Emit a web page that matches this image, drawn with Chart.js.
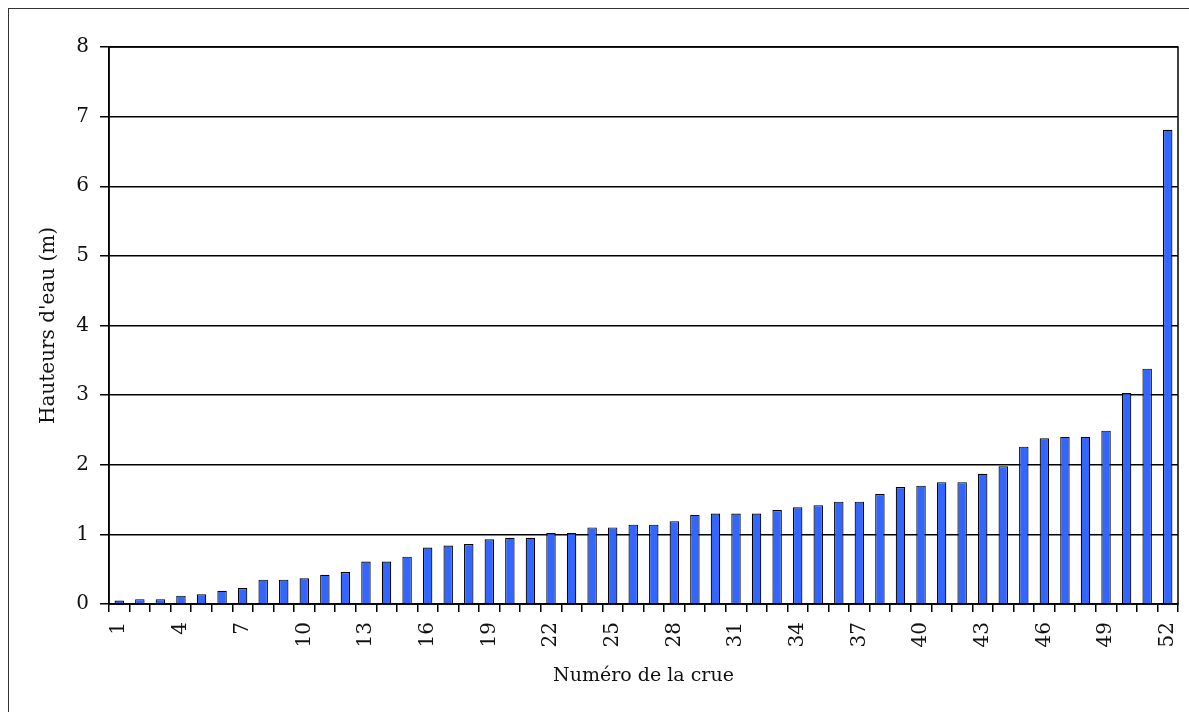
<!DOCTYPE html>
<html>
<head>
<meta charset="utf-8">
<script src="https://cdn.jsdelivr.net/npm/chart.js@4"></script>
<style>
  body { margin: 0; background: #fff; overflow: hidden; }
  #frame { position: absolute; left: 8px; top: 8px; width: 1200px; height: 720px; border: 1px solid #333; }
  #crues { position: absolute; left: 0; top: 0; }
</style>
</head>
<body>
<div id="frame"></div>
<canvas id="crues" width="1189" height="712"></canvas>
<script>
// hauteurs d'eau (m) for each flood, sorted
const numeros = [];
for (let i = 1; i <= 52; i++) numeros.push(String(i));

const hauteurs = [
  0.05, 0.07, 0.07, 0.12, 0.14, 0.19, 0.23, 0.35, 0.35, 0.37,
  0.42, 0.46, 0.61, 0.61, 0.68, 0.81, 0.84, 0.86, 0.93, 0.95,
  0.95, 1.02, 1.02, 1.10, 1.10, 1.14, 1.14, 1.19, 1.28, 1.30,
  1.30, 1.30, 1.35, 1.39, 1.42, 1.47, 1.47, 1.58, 1.68, 1.70,
  1.75, 1.75, 1.87, 1.98, 2.26, 2.38, 2.40, 2.40, 2.49, 3.03,
  3.38, 6.81,
];

const yTicks = [0, 1, 2, 3, 4, 5, 6, 7, 8];

const police = "'DejaVu Serif', 'Liberation Serif', serif";

const framePlugin = {
  id: "framePlugin",
  afterDatasetsDraw(chart) {
    const { ctx, chartArea } = chart;
    ctx.save();
    ctx.strokeStyle = "#000";
    ctx.lineWidth = 1.5;
    ctx.strokeRect(chartArea.left, chartArea.top, chartArea.right - chartArea.left, chartArea.bottom - chartArea.top);
    ctx.restore();
  },
};

const crues = document.getElementById("crues").getContext("2d");

new Chart(crues, {
  type: "bar",
  data: {
    labels: numeros,
    datasets: [
      {
        data: hauteurs,
        backgroundColor: "#3366ff",
        borderColor: "#000",
        borderWidth: 1.2,
        barPercentage: 0.46,
        categoryPercentage: 1,
      },
    ],
  },
  options: {
    responsive: false,
    animation: false,
    layout: { padding: { top: 47, right: 11, left: 0, bottom: 0 } },
    plugins: {
      legend: { display: false },
      tooltip: { enabled: false },
    },
    scales: {
      x: {
        afterFit: (scale) => {
          scale.height = 108;
          scale.paddingLeft = 0;
          scale.paddingRight = 0;
        },
        grid: {
          offset: true,
          drawOnChartArea: false,
          drawTicks: true,
          tickLength: 8,
          color: "#000",
          lineWidth: 1.5,
        },
        border: { color: "#000", width: 1.5 },
        ticks: {
          autoSkip: false,
          minRotation: 90,
          maxRotation: 90,
          padding: 10,
          color: "#111",
          font: { family: police, size: 20 },
          callback: (v, i) => (i % 3 === 0 ? numeros[i] : ""),
        },
        title: {
          display: true,
          text: "Numéro de la crue",
          color: "#111",
          font: { family: police, size: 19 },
          padding: { top: 0, bottom: 25 },
        },
      },
      y: {
        min: 0,
        max: 8,
        afterFit: (scale) => { scale.width = 109; },
        afterBuildTicks: (scale) => { scale.ticks = yTicks.map((v) => ({ value: v })); },
        grid: {
          color: "#000",
          lineWidth: 1.5,
          tickLength: 9,
        },
        border: { color: "#000", width: 1.5 },
        ticks: {
          padding: 11,
          color: "#111",
          font: { family: police, size: 20 },
        },
        title: {
          display: true,
          text: "Hauteurs d'eau (m)",
          color: "#111",
          font: { family: police, size: 20 },
          padding: { top: 37, bottom: 0 },
        },
      },
    },
  },
  plugins: [framePlugin],
});
</script>
</body>
</html>
